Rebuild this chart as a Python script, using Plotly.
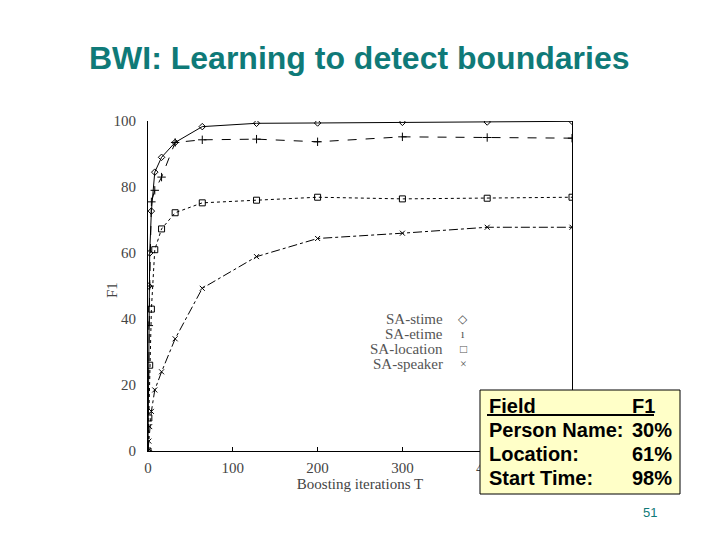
import plotly.graph_objects as go

# boosting iterations T
iterations = [0, 1, 2, 4, 8, 16, 32, 64, 128, 200, 300, 400, 500]

# F1 per field
f1_stime = [0, 50, 60, 72.7, 84.5, 89, 93.5, 98.3, 99.3, 99.4, 99.6, 99.7, 99.9]
f1_etime = [0, 38, 50, 75.5, 79, 83, 93.5, 94.3, 94.5, 93.7, 95.2, 95.0, 94.8]
f1_location = [0, 10, 26, 43, 61, 67.3, 72.2, 75.2, 76, 76.9, 76.4, 76.6, 76.9]
f1_speaker = [0, 3, 7.4, 12, 18.5, 24, 34, 49.3, 58.9, 64.4, 66, 67.8, 67.8]

series_names = ["SA-stime", "SA-etime", "SA-location", "SA-speaker"]
legend_marks = ["\u25c7", "\u0131", "\u25a1", "\u00d7"]

# summary table in the box
table_fields = ["Field", "Person Name:", "Location:", "Start Time:"]
table_f1 = ["F1", "30%", "61%", "98%"]

serif = "Liberation Serif, Times New Roman, serif"
sans = "Liberation Sans, Arial, sans-serif"
teal = "#0f7a78"

# plot area in pixels: x 148..572, y 121..451
def px(x):
    return (x - 148) / 424

def py(y):
    return (451 - y) / 330

styles = [
    dict(dash="solid", symbol="diamond-open", size=5),
    dict(dash="dash", symbol="cross-thin-open", size=6),
    dict(dash="dot", symbol="square-open", size=6),
    dict(dash="dashdot", symbol="x-thin-open", size=5),
]

fig = go.Figure()
for name, vals, st in zip(series_names, [f1_stime, f1_etime, f1_location, f1_speaker], styles):
    fig.add_trace(go.Scatter(
        x=iterations, y=vals, name=name, mode="lines+markers",
        line=dict(color="black", width=1, dash=st["dash"]),
        marker=dict(symbol=st["symbol"], size=st["size"], color="black",
                    line=dict(color="black", width=1)),
        showlegend=False,
    ))

# dummy trace on a right-side axis just to get the frame line at x=500
fig.add_trace(go.Scatter(x=[None], y=[None], yaxis="y2", showlegend=False))

annotations = [
    dict(text="<b>BWI: Learning to detect boundaries</b>", xref="paper", yref="paper",
         x=px(359), y=py(58), xanchor="center", yanchor="middle", showarrow=False,
         font=dict(family=sans, size=32, color=teal)),
    dict(text="51", xref="paper", yref="paper", x=px(650), y=py(512),
         xanchor="center", yanchor="middle", showarrow=False,
         font=dict(family=sans, size=13, color=teal)),
    # y axis title, placed by hand closer to the tick labels
    dict(text="F1", xref="paper", yref="paper", x=px(112), y=py(290), textangle=-90,
         xanchor="center", yanchor="middle", showarrow=False,
         font=dict(family=serif, size=15, color="#444")),
]

# legend drawn as right-aligned text with the mark after it
for i, (n, m) in enumerate(zip(series_names, legend_marks)):
    annotations.append(dict(text=n, xref="paper", yref="paper", x=px(445), y=py(319 + 15 * i),
                            xanchor="right", yanchor="middle", showarrow=False,
                            font=dict(family=serif, size=15, color="#555")))
    annotations.append(dict(text=m, xref="paper", yref="paper", x=px(463), y=py(319 + 15 * i),
                            xanchor="center", yanchor="middle", showarrow=False,
                            font=dict(family=serif, size=12, color="#555")))

for i, (f, v) in enumerate(zip(table_fields, table_f1)):
    annotations.append(dict(text="<b>" + f + "</b>", xref="paper", yref="paper",
                            x=px(487), y=py(406 + 24 * i), xanchor="left", yanchor="middle",
                            showarrow=False, font=dict(family=sans, size=20, color="black")))
    annotations.append(dict(text="<b>" + v + "</b>", xref="paper", yref="paper",
                            x=px(630), y=py(406 + 24 * i), xanchor="left", yanchor="middle",
                            showarrow=False, font=dict(family=sans, size=20, color="black")))

fig.update_layout(
    width=720, height=540,
    margin=dict(l=148, r=148, t=121, b=89, autoexpand=False),
    paper_bgcolor="white", plot_bgcolor="white",
    xaxis=dict(range=[0, 500], tickvals=[0, 100, 200, 300, 400, 500],
               showgrid=False, zeroline=False, showline=True, linecolor="black",
               linewidth=1, ticks="inside", ticklen=4, tickcolor="black",
               ticklabelstandoff=3,
               tickfont=dict(family=serif, size=15, color="#444"),
               title=dict(text="Boosting iterations T", standoff=0,
                          font=dict(family=serif, size=15, color="#444"))),
    yaxis=dict(range=[0, 100], tickvals=[0, 20, 40, 60, 80, 100],
               showgrid=False, zeroline=False, showline=True, linecolor="black",
               linewidth=1, ticks="", ticklabelstandoff=8,
               tickfont=dict(family=serif, size=15, color="#444")),
    yaxis2=dict(overlaying="y", side="right", range=[0, 100], showline=True,
                linecolor="black", showticklabels=False, ticks="", showgrid=False,
                zeroline=False),
    annotations=annotations,
    shapes=[
        dict(type="rect", xref="paper", yref="paper", x0=px(480), x1=px(680),
             y0=py(494), y1=py(390), fillcolor="#ffffc8", line=dict(color="black", width=1),
             layer="above"),
        dict(type="line", xref="paper", yref="paper", x0=px(487), x1=px(654),
             y0=py(415), y1=py(415), line=dict(color="black", width=2), layer="above"),
    ],
)

# drop the page's default body margin so the figure sits at the top-left corner
fig.write_html("out.html", config={"displayModeBar": False},
               post_script="document.body.style.margin='0';")
